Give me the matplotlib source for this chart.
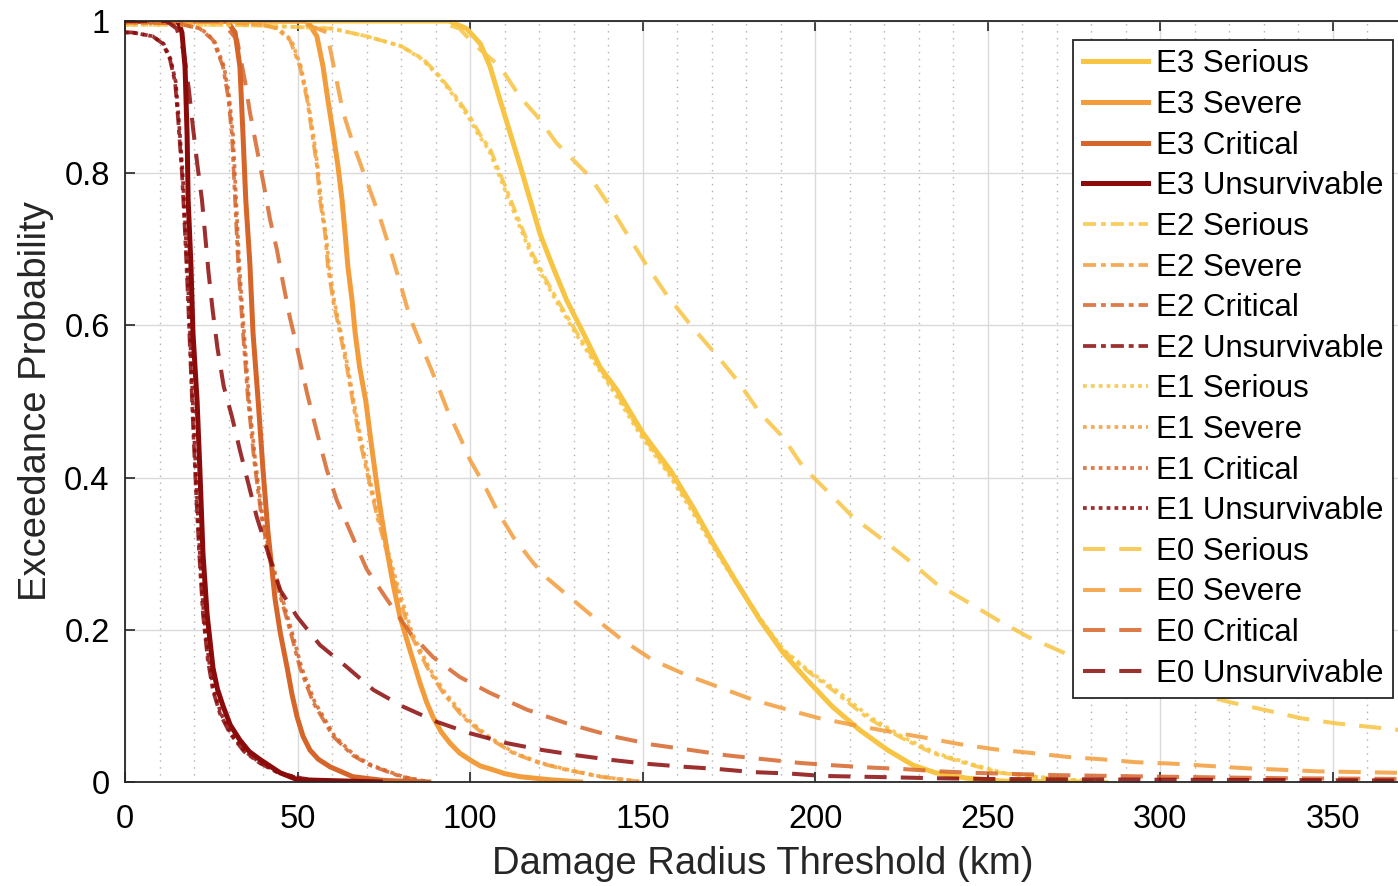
import numpy as np
import matplotlib
matplotlib.use('Agg')
from matplotlib import pyplot as plt
from matplotlib.ticker import MultipleLocator, FuncFormatter

plt.rcParams['font.family'] = ['Liberation Sans', 'DejaVu Sans']

# ---- data (x in km, y = exceedance probability) ----
# E3 (solid)
e3_serious_x = [0, 94, 99, 103, 105.8, 108.7, 111.6, 114.5, 117.4, 120.3, 124, 128, 132.8, 137.7,
                142.6, 150, 158, 164.6, 170.4, 177.4, 184, 190.7, 197.7, 205, 213, 221, 228.4, 235,
                244, 255, 277]
e3_serious_y = [1, 1, 0.99, 0.97, 0.94, 0.896, 0.853, 0.81, 0.765, 0.72, 0.677, 0.633, 0.59, 0.545,
                0.515, 0.459, 0.41, 0.361, 0.314, 0.261, 0.213, 0.17, 0.134, 0.099, 0.068, 0.042,
                0.022, 0.012, 0.005, 0.001, 0]
e3_severe_x = [0, 52.8, 55.6, 57.4, 58.8, 60.3, 61.7, 62.9, 63.8, 64.6, 65.8, 66.7, 68, 69.8, 71.5,
               73, 74.3, 75.9, 77.7, 79.7, 82.6, 85.5, 87.4, 89.3, 91.6, 94.2, 97, 100, 103,
               106.7, 110, 114.5, 123, 132]
e3_severe_y = [1, 1, 0.98, 0.94, 0.896, 0.853, 0.81, 0.765, 0.72, 0.677, 0.633, 0.59, 0.545, 0.5,
               0.44, 0.39, 0.35, 0.305, 0.26, 0.217, 0.173, 0.13, 0.105, 0.085, 0.066, 0.051,
               0.038, 0.029, 0.021, 0.016, 0.011, 0.007, 0.003, 0]
e3_critical_x = [0, 29.6, 31.9, 33.3, 34.2, 35, 36.2, 37.1, 38.6, 40, 41.4, 43.5, 45, 47, 48.4, 49.9,
                 51.6, 53.6, 56, 59.4, 66, 75, 88]
e3_critical_y = [1, 1, 0.985, 0.94, 0.85, 0.765, 0.68, 0.59, 0.5, 0.41, 0.33, 0.24, 0.196, 0.15,
                 0.115, 0.085, 0.06, 0.042, 0.03, 0.02, 0.007, 0.002, 0]
e3_unsurv_x = [0, 14, 15.5, 16.5, 17.4, 18, 18.3, 19.1, 19.7, 20.9, 21.7, 22.6, 23.8, 25.5, 26.8,
               28.4, 30.5, 33.3, 36, 39, 45, 50, 74]
e3_unsurv_y = [1, 1, 0.998, 0.985, 0.94, 0.85, 0.765, 0.68, 0.59, 0.5, 0.41, 0.3, 0.22, 0.15, 0.122,
               0.1, 0.075, 0.055, 0.04, 0.03, 0.012, 0.003, 0]

# E2 (dash-dot)
e2_serious_x = [0, 30, 45, 60, 70, 80, 86.4, 91.3, 96, 100, 103, 106, 110, 114, 118, 122, 126, 131,
                136, 142.6, 150, 158, 164.6, 170.4, 177.4, 184, 190.7, 198, 205, 215, 224.6, 234,
                244, 253.6, 263, 273, 285]
e2_serious_y = [0.995, 0.995, 0.993, 0.99, 0.98, 0.967, 0.95, 0.927, 0.9, 0.874, 0.85, 0.83, 0.785,
                0.74, 0.695, 0.66, 0.628, 0.59, 0.555, 0.51, 0.455, 0.405, 0.358, 0.312, 0.262,
                0.215, 0.173, 0.145, 0.121, 0.085, 0.059, 0.038, 0.024, 0.012, 0.007, 0.003, 0]
e2_severe_x = [0, 30, 40, 44, 47.8, 50.7, 52.8, 54.2, 55.6, 56.5, 58, 58.8, 60.3, 62.3, 64.3, 66,
               68, 70.5, 73, 76, 79, 82.6, 87.5, 92.2, 98, 105, 112.5, 120, 128, 137.7, 150]
e2_severe_y = [1, 0.998, 0.995, 0.99, 0.975, 0.94, 0.896, 0.853, 0.81, 0.765, 0.72, 0.677, 0.633,
               0.59, 0.545, 0.5, 0.45, 0.4, 0.35, 0.3, 0.25, 0.196, 0.151, 0.117, 0.085, 0.059,
               0.038, 0.025, 0.016, 0.007, 0]
e2_critical_x = [0, 15, 21.7, 25.5, 28.4, 29.9, 31, 31.9, 32.8, 34.2, 35.7, 37.5, 39.5, 41.5, 44,
                 47.8, 50.7, 54.5, 60.3, 66, 71, 80, 88]
e2_critical_y = [0.998, 0.997, 0.99, 0.975, 0.94, 0.9, 0.85, 0.765, 0.68, 0.59, 0.5, 0.42, 0.35,
                 0.3, 0.26, 0.2, 0.15, 0.105, 0.06, 0.035, 0.022, 0.007, 0]
e2_unsurv_x = [0, 2, 8, 11, 13, 14.5, 15.4, 16.5, 17.4, 18.3, 19.0, 19.8, 20.6, 21.5, 22.6, 24,
               25.5, 27.5, 30.4, 34.5, 39, 44, 48.7, 55, 74]
e2_unsurv_y = [0.985, 0.985, 0.98, 0.97, 0.95, 0.92, 0.87, 0.8, 0.72, 0.63, 0.55, 0.46, 0.38, 0.3,
               0.22, 0.16, 0.12, 0.09, 0.064, 0.04, 0.025, 0.013, 0.007, 0.002, 0]

# E1 (dotted)
e1_serious_x = [0, 30, 45, 60, 70, 80, 86, 91, 95.5, 99.5, 102.5, 105.5, 109.5, 113.5, 117.5, 121.5,
                125.5, 130.5, 135.5, 142, 149.5, 157.5, 164, 170, 177, 184, 191, 198.5, 206, 216,
                225.5, 235, 245, 254.5, 264, 274, 286]
e1_serious_y = [0.995, 0.995, 0.993, 0.99, 0.98, 0.967, 0.95, 0.927, 0.9, 0.874, 0.85, 0.83, 0.785,
                0.74, 0.695, 0.66, 0.628, 0.59, 0.555, 0.51, 0.455, 0.405, 0.358, 0.312, 0.262,
                0.215, 0.173, 0.145, 0.121, 0.085, 0.059, 0.038, 0.024, 0.012, 0.007, 0.003, 0]
e1_severe_x = [0, 30, 40, 44.5, 48.2, 51, 53, 54.5, 55.8, 56.8, 58.2, 59.2, 60.6, 62.6, 64.6, 66.3,
               68.4, 70.8, 73.4, 76.4, 79.5, 83.2, 88, 92.8, 98.6, 105.6, 113, 120.6, 128.5, 138, 150]
e1_severe_y = [1, 0.998, 0.995, 0.99, 0.975, 0.94, 0.896, 0.853, 0.81, 0.765, 0.72, 0.677, 0.633,
               0.59, 0.545, 0.5, 0.45, 0.4, 0.35, 0.3, 0.25, 0.196, 0.151, 0.117, 0.085, 0.059,
               0.038, 0.025, 0.016, 0.007, 0]
e1_critical_x = [0, 15, 22, 25.8, 28.7, 30.2, 31.3, 32.2, 33.1, 34.5, 36, 37.8, 39.8, 41.9, 44.4,
                 48.2, 51.2, 55, 60.8, 66.5, 71.5, 80.5, 88]
e1_critical_y = [0.998, 0.997, 0.99, 0.975, 0.94, 0.9, 0.85, 0.765, 0.68, 0.59, 0.5, 0.42, 0.35,
                 0.3, 0.26, 0.2, 0.15, 0.105, 0.06, 0.035, 0.022, 0.007, 0]
e1_unsurv_x = [0, 2, 8, 11.2, 13.2, 14.7, 15.6, 16.7, 17.6, 18.5, 19.2, 20, 20.8, 21.7, 22.8, 24.3,
               25.8, 27.8, 30.7, 34.8, 39.3, 44.3, 49, 55, 74]
e1_unsurv_y = [0.985, 0.985, 0.98, 0.97, 0.95, 0.92, 0.87, 0.8, 0.72, 0.63, 0.55, 0.46, 0.38, 0.3,
               0.22, 0.16, 0.12, 0.09, 0.064, 0.04, 0.025, 0.013, 0.007, 0.002, 0]

# E0 (dashed)
e0_serious_x = [0, 90, 97, 101, 108.7, 114.5, 119.4, 125, 130, 134.8, 140.6, 145.5, 151, 157, 164,
                171.6, 177.4, 184, 190.7, 196.5, 204, 211, 219.7, 227.5, 235, 244, 252.8, 262, 272,
                285, 300, 321, 330, 340.6, 351, 361.7, 370]
e0_serious_y = [1, 1, 0.99, 0.97, 0.94, 0.9, 0.875, 0.84, 0.817, 0.795, 0.756, 0.72, 0.68, 0.64,
                0.6, 0.56, 0.528, 0.485, 0.453, 0.414, 0.38, 0.348, 0.318, 0.29, 0.261, 0.237,
                0.213, 0.19, 0.17, 0.148, 0.128, 0.104, 0.095, 0.084, 0.077, 0.072, 0.068]
e0_severe_x = [0, 50, 58.5, 61.4, 63.2, 66, 70, 74, 76.8, 79.7, 82.6, 86.4, 90.4, 93.3, 97, 100,
               103.8, 107.8, 112.5, 118.3, 122.3, 127, 135.7, 144, 153, 163, 172.5, 182, 192, 201,
               211, 221.7, 231, 241.5, 252, 263, 273, 282.6, 293, 304, 314.5, 325, 335.7, 345.5, 370]
e0_severe_y = [1, 1, 0.985, 0.92, 0.88, 0.84, 0.79, 0.74, 0.7, 0.656, 0.61, 0.568, 0.524, 0.49,
               0.454, 0.423, 0.393, 0.357, 0.322, 0.288, 0.268, 0.25, 0.217, 0.187, 0.16, 0.14,
               0.124, 0.108, 0.095, 0.084, 0.075, 0.066, 0.059, 0.05, 0.043, 0.038, 0.033, 0.03,
               0.026, 0.024, 0.021, 0.018, 0.016, 0.014, 0.012]
e0_critical_x = [0, 28, 32.5, 34.8, 36.2, 38.3, 40, 42, 44, 45.8, 47.8, 49.9, 52.8, 55.6, 58.5, 61.4,
                 65.2, 70, 75.9, 82.6, 89.3, 97, 105.8, 116.5, 128, 141.4, 153, 164, 174.5, 185,
                 195.7, 205, 216, 225.5, 236, 246, 270, 300, 335, 370]
e0_critical_y = [1, 1, 0.975, 0.92, 0.88, 0.83, 0.79, 0.74, 0.7, 0.656, 0.61, 0.57, 0.51, 0.46,
                 0.41, 0.37, 0.33, 0.28, 0.24, 0.196, 0.164, 0.138, 0.117, 0.095, 0.077, 0.06,
                 0.049, 0.042, 0.035, 0.03, 0.025, 0.022, 0.019, 0.017, 0.014, 0.012, 0.009, 0.007,
                 0.005, 0.004]
e0_unsurv_x = [0, 12, 15, 17, 18.5, 19.7, 21, 22.3, 23.2, 24.2, 25.4, 26.8, 28.6, 31, 33.3, 35.7,
               38.2, 41.2, 45, 49.9, 56.5, 64.3, 72, 80.6, 90.4, 100, 110.7, 121, 131, 141, 151,
               162, 172, 182, 193, 202, 213, 224, 234, 250, 300, 370]
e0_unsurv_y = [1, 1, 0.99, 0.96, 0.91, 0.86, 0.81, 0.765, 0.72, 0.67, 0.62, 0.57, 0.52, 0.48,
               0.436, 0.393, 0.348, 0.305, 0.252, 0.217, 0.18, 0.151, 0.121, 0.099, 0.079, 0.064,
               0.051, 0.042, 0.035, 0.029, 0.024, 0.02, 0.017, 0.013, 0.011, 0.008, 0.007, 0.006,
               0.005, 0.004, 0.003, 0.002]

levels = ['Serious', 'Severe', 'Critical', 'Unsurvivable']
level_colors = ['#F7C443', '#F39C3B', '#D6652A', '#8B0A0A']

series = [
    ('E3', [(e3_serious_x, e3_serious_y), (e3_severe_x, e3_severe_y),
            (e3_critical_x, e3_critical_y), (e3_unsurv_x, e3_unsurv_y)]),
    ('E2', [(e2_serious_x, e2_serious_y), (e2_severe_x, e2_severe_y),
            (e2_critical_x, e2_critical_y), (e2_unsurv_x, e2_unsurv_y)]),
    ('E1', [(e1_serious_x, e1_serious_y), (e1_severe_x, e1_severe_y),
            (e1_critical_x, e1_critical_y), (e1_unsurv_x, e1_unsurv_y)]),
    ('E0', [(e0_serious_x, e0_serious_y), (e0_severe_x, e0_severe_y),
            (e0_critical_x, e0_critical_y), (e0_unsurv_x, e0_unsurv_y)]),
]

styles = {
    'E3': dict(linestyle='-', linewidth=3.6, alpha=1.0),
    'E2': dict(linestyle=(0, (3.5, 1.3, 1.3, 1.3)), linewidth=2.7, alpha=0.85),
    'E1': dict(linestyle=(0, (1, 1.1)), linewidth=2.7, alpha=0.85),
    'E0': dict(linestyle=(0, (5.5, 3.5)), linewidth=2.9, alpha=0.85),
}

fig = plt.figure(figsize=(13.98, 8.86), dpi=100)
ax = fig.add_axes([125 / 1398, 104 / 886, 1275 / 1398, 761 / 886])

for name, curves in series:
    for (xs, ys), lvl, col in zip(curves, levels, level_colors):
        ax.plot(xs, ys, color=col, label=f'{name} {lvl}', solid_joinstyle='round',
                dash_joinstyle='round', **styles[name])

ax.set_xlim(0, 369.5)
ax.set_ylim(0, 1)
ax.xaxis.set_major_locator(MultipleLocator(50))
ax.xaxis.set_minor_locator(MultipleLocator(10))
ax.yaxis.set_major_locator(MultipleLocator(0.2))
ax.yaxis.set_major_formatter(FuncFormatter(lambda v, p: '%g' % round(v, 2)))

ax.grid(True, which='major', color='#dadada', linewidth=1.0)
ax.grid(True, which='minor', axis='x', color='#b0b0b0', linestyle=(0, (1, 4)), linewidth=1.0)
ax.set_axisbelow(True)

ax.tick_params(which='major', direction='in', length=7, width=1.2, labelsize=23.5,
               top=True, right=False, pad=11, color='#262626')
ax.tick_params(axis='x', which='major', pad=16)
ax.tick_params(which='minor', length=0)
for side in ['left', 'bottom', 'top']:
    ax.spines[side].set_linewidth(1.3)
    ax.spines[side].set_color('#262626')
ax.spines['right'].set_visible(False)

ax.set_xlabel('Damage Radius Threshold (km)', fontsize=27.5, labelpad=8, color='#262626')
ax.set_ylabel('Exceedance Probability', fontsize=27.5, labelpad=7, color='#262626')

leg = ax.legend(loc='upper right', bbox_to_anchor=(1393 / 1398, 846 / 886),
                bbox_transform=fig.transFigure, fontsize=22.5, frameon=True, fancybox=False,
                edgecolor='#262626', framealpha=1, handlelength=2.1, handletextpad=0.25,
                labelspacing=0.34, borderpad=0.3, borderaxespad=0)
leg.get_frame().set_linewidth(1.3)

fig.savefig('out.png', dpi=100)
